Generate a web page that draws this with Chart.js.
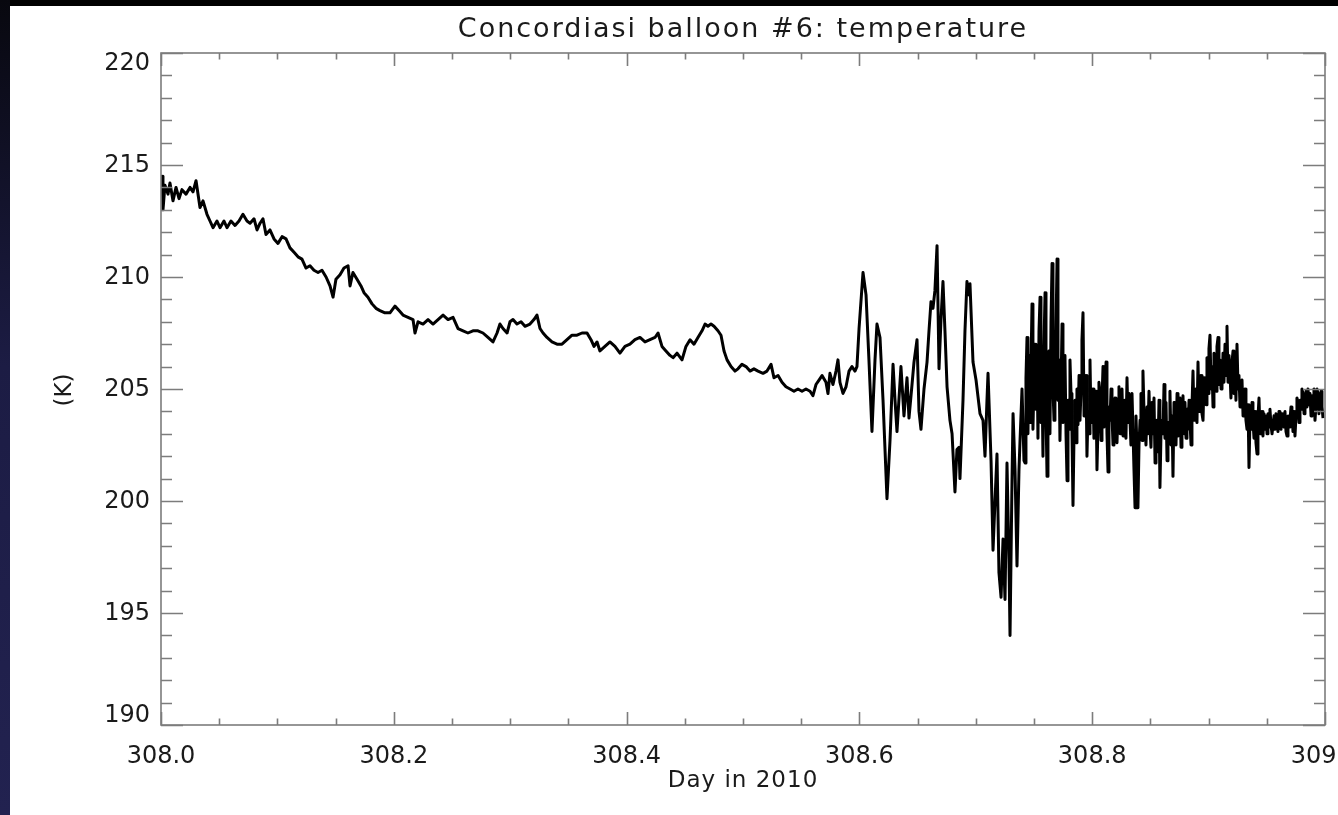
<!DOCTYPE html>
<html>
<head>
<meta charset="utf-8">
<title>Concordiasi balloon #6: temperature</title>
<script src="https://cdn.jsdelivr.net/npm/chart.js@4.4.1/dist/chart.umd.min.js"></script>
<style>
  html, body { margin: 0; padding: 0; width: 1338px; height: 815px; overflow: hidden; background: #000; }
  #edge { position: absolute; left: 0; top: 0; width: 10px; height: 815px; background: linear-gradient(#08080f, #1c1c44 45%, #222250); }
  #paper { position: absolute; left: 10px; top: 6px; width: 1328px; height: 809px; background: #fff; }
  canvas { display: block; }
</style>
</head>
<body>
<div id="edge"></div>
<div id="paper"><canvas id="chartTemp" width="1328" height="809"></canvas></div>
<script>
// ---- data ----
const days = [
  308.0000, 308.0009, 308.0017, 308.0034, 308.0060, 308.0077, 308.0103, 308.0129, 308.0155, 308.0180,
  308.0215, 308.0249, 308.0275, 308.0301, 308.0335, 308.0361, 308.0395, 308.0421, 308.0447, 308.0481,
  308.0507, 308.0541, 308.0567, 308.0601, 308.0636, 308.0670, 308.0704, 308.0739, 308.0765, 308.0799,
  308.0825, 308.0851, 308.0876, 308.0902, 308.0936, 308.0971, 308.1005, 308.1040, 308.1074, 308.1108,
  308.1143, 308.1177, 308.1211, 308.1246, 308.1280, 308.1314, 308.1349, 308.1383, 308.1418, 308.1452,
  308.1478, 308.1503, 308.1538, 308.1572, 308.1607, 308.1624, 308.1649, 308.1684, 308.1718, 308.1744,
  308.1778, 308.1813, 308.1847, 308.1881, 308.1924, 308.1967, 308.2010, 308.2045, 308.2079, 308.2122,
  308.2165, 308.2182, 308.2208, 308.2251, 308.2294, 308.2337, 308.2380, 308.2423, 308.2466, 308.2509,
  308.2552, 308.2595, 308.2637, 308.2680, 308.2723, 308.2766, 308.2809, 308.2852, 308.2887, 308.2912,
  308.2938, 308.2973, 308.2998, 308.3024, 308.3058, 308.3093, 308.3127, 308.3170, 308.3204, 308.3230,
  308.3256, 308.3282, 308.3316, 308.3359, 308.3402, 308.3445, 308.3488, 308.3531, 308.3574, 308.3617,
  308.3660, 308.3694, 308.3720, 308.3746, 308.3771, 308.3814, 308.3857, 308.3900, 308.3943, 308.3986,
  308.4029, 308.4072, 308.4115, 308.4158, 308.4201, 308.4244, 308.4270, 308.4304, 308.4338, 308.4373,
  308.4399, 308.4433, 308.4476, 308.4510, 308.4545, 308.4579, 308.4613, 308.4648, 308.4674, 308.4699,
  308.4725, 308.4751, 308.4785, 308.4811, 308.4837, 308.4863, 308.4897, 308.4931, 308.4957, 308.4991,
  308.5026, 308.5060, 308.5094, 308.5129, 308.5172, 308.5206, 308.5241, 308.5266, 308.5301, 308.5335,
  308.5369, 308.5404, 308.5438, 308.5472, 308.5507, 308.5541, 308.5576, 308.5601, 308.5627, 308.5653,
  308.5679, 308.5713, 308.5730, 308.5747, 308.5773, 308.5799, 308.5816, 308.5833, 308.5859, 308.5885,
  308.5911, 308.5936, 308.5962, 308.5979, 308.5997, 308.6031, 308.6057, 308.6082, 308.6108, 308.6134,
  308.6151, 308.6177, 308.6203, 308.6237, 308.6263, 308.6289, 308.6306, 308.6323, 308.6357, 308.6383,
  308.6409, 308.6426, 308.6452, 308.6469, 308.6495, 308.6512, 308.6529, 308.6555, 308.6581, 308.6598,
  308.6615, 308.6632, 308.6649, 308.6667, 308.6684, 308.6701, 308.6718, 308.6735, 308.6753, 308.6778,
  308.6796, 308.6821, 308.6838, 308.6856, 308.6864, 308.6890, 308.6907, 308.6924, 308.6942, 308.6950,
  308.6976, 308.7002, 308.7036, 308.7062, 308.7079, 308.7096, 308.7105, 308.7131, 308.7148, 308.7165,
  308.7182, 308.7199, 308.7217, 308.7234, 308.7251, 308.7268, 308.7285, 308.7294, 308.7311, 308.7320,
  308.7337, 308.7354, 308.7371, 308.7380, 308.7397, 308.7414,
  // dense, noisy stretch
  308.7423, 308.7431, 308.7440, 308.7448, 308.7457, 308.7466, 308.7474, 308.7483, 308.7491, 308.7500,
  308.7509, 308.7517, 308.7526, 308.7534, 308.7543, 308.7552, 308.7560, 308.7569, 308.7577, 308.7586,
  308.7595, 308.7603, 308.7612, 308.7620, 308.7629, 308.7637, 308.7646, 308.7655, 308.7663, 308.7672,
  308.7680, 308.7689, 308.7698, 308.7706, 308.7715, 308.7723, 308.7732, 308.7741, 308.7749, 308.7758,
  308.7766, 308.7775, 308.7784, 308.7792, 308.7801, 308.7809, 308.7818, 308.7826, 308.7835, 308.7844,
  308.7852, 308.7861, 308.7869, 308.7878, 308.7887, 308.7895, 308.7904, 308.7912, 308.7921, 308.7930,
  308.7938, 308.7947, 308.7955, 308.7964, 308.7973, 308.7981, 308.7990, 308.7998, 308.8007, 308.8015,
  308.8024, 308.8033, 308.8041, 308.8050, 308.8058, 308.8067, 308.8076, 308.8084, 308.8093, 308.8101,
  308.8110, 308.8119, 308.8127, 308.8136, 308.8144, 308.8153, 308.8162, 308.8170, 308.8179, 308.8187,
  308.8196, 308.8204, 308.8213, 308.8222, 308.8230, 308.8239, 308.8247, 308.8256, 308.8265, 308.8273,
  308.8282, 308.8290, 308.8299, 308.8308, 308.8316, 308.8325, 308.8333, 308.8342, 308.8351, 308.8359,
  308.8368, 308.8376, 308.8385, 308.8393, 308.8402, 308.8411, 308.8419, 308.8428, 308.8436, 308.8445,
  308.8454, 308.8462, 308.8471, 308.8479, 308.8488, 308.8497, 308.8505, 308.8514, 308.8522, 308.8531,
  308.8540, 308.8548, 308.8557, 308.8565, 308.8574, 308.8582, 308.8591, 308.8600, 308.8608, 308.8617,
  308.8625, 308.8634, 308.8643, 308.8651, 308.8660, 308.8668, 308.8677, 308.8686, 308.8694, 308.8703,
  308.8711, 308.8720, 308.8729, 308.8737, 308.8746, 308.8754, 308.8763, 308.8771, 308.8780, 308.8789,
  308.8797, 308.8806, 308.8814, 308.8823, 308.8832, 308.8840, 308.8849, 308.8857, 308.8866, 308.8875,
  308.8883, 308.8892, 308.8900, 308.8909, 308.8918, 308.8926, 308.8935, 308.8943, 308.8952, 308.8961,
  308.8969, 308.8978, 308.8986, 308.8995, 308.9003, 308.9012, 308.9021, 308.9029, 308.9038, 308.9046,
  308.9055, 308.9064, 308.9072, 308.9081, 308.9089, 308.9098, 308.9107, 308.9115, 308.9124, 308.9132,
  308.9141, 308.9150, 308.9158, 308.9167, 308.9175, 308.9184, 308.9192, 308.9201, 308.9210, 308.9218,
  308.9227, 308.9235, 308.9244, 308.9253, 308.9261, 308.9270, 308.9278, 308.9287, 308.9296, 308.9304,
  308.9313, 308.9321, 308.9330, 308.9339, 308.9347, 308.9356, 308.9364, 308.9373, 308.9381, 308.9390,
  308.9399, 308.9407, 308.9416, 308.9424, 308.9433, 308.9442, 308.9450, 308.9459,
  // tail
  308.9467, 308.9476, 308.9485, 308.9493, 308.9502, 308.9510, 308.9519, 308.9527, 308.9536, 308.9545,
  308.9553, 308.9562, 308.9570, 308.9579, 308.9588, 308.9596, 308.9605, 308.9613, 308.9622, 308.9631,
  308.9639, 308.9648, 308.9656, 308.9665, 308.9674, 308.9682, 308.9691, 308.9699, 308.9708, 308.9716,
  308.9725, 308.9734, 308.9742, 308.9751, 308.9759, 308.9768, 308.9777, 308.9785, 308.9794, 308.9802,
  308.9811, 308.9820, 308.9828, 308.9837, 308.9845, 308.9854, 308.9863, 308.9871, 308.9880, 308.9888,
  308.9897, 308.9905, 308.9914, 308.9923, 308.9931, 308.9940, 308.9948, 308.9957, 308.9966, 308.9974,
  308.9983
];

const tempK = [
  213.9, 214.5, 213.0, 214.1, 213.7, 214.2, 213.4, 214.0, 213.5, 213.9,
  213.7, 214.0, 213.8, 214.3, 213.1, 213.4, 212.8, 212.5, 212.2, 212.5,
  212.2, 212.5, 212.2, 212.5, 212.3, 212.5, 212.8, 212.5, 212.4, 212.6,
  212.1, 212.4, 212.6, 211.9, 212.1, 211.7, 211.5, 211.8, 211.7, 211.3,
  211.1, 210.9, 210.8, 210.4, 210.5, 210.3, 210.2, 210.3, 210.0, 209.6,
  209.1, 209.9, 210.1, 210.4, 210.5, 209.6, 210.2, 209.9, 209.6, 209.3,
  209.1, 208.8, 208.6, 208.5, 208.4, 208.4, 208.7, 208.5, 208.3, 208.2,
  208.1, 207.5, 208.0, 207.9, 208.1, 207.9, 208.1, 208.3, 208.1, 208.2,
  207.7, 207.6, 207.5, 207.6, 207.6, 207.5, 207.3, 207.1, 207.5, 207.9,
  207.7, 207.5, 208.0, 208.1, 207.9, 208.0, 207.8, 207.9, 208.1, 208.3,
  207.7, 207.5, 207.3, 207.1, 207.0, 207.0, 207.2, 207.4, 207.4, 207.5,
  207.5, 207.2, 206.9, 207.1, 206.7, 206.9, 207.1, 206.9, 206.6, 206.9,
  207.0, 207.2, 207.3, 207.1, 207.2, 207.3, 207.5, 206.9, 206.7, 206.5,
  206.4, 206.6, 206.3, 206.9, 207.2, 207.0, 207.3, 207.6, 207.9, 207.8,
  207.9, 207.8, 207.6, 207.4, 206.7, 206.3, 206.0, 205.8, 205.9, 206.1,
  206.0, 205.8, 205.9, 205.8, 205.7, 205.8, 206.1, 205.5, 205.6, 205.3,
  205.1, 205.0, 204.9, 205.0, 204.9, 205.0, 204.9, 204.7, 205.2, 205.4,
  205.6, 205.3, 204.8, 205.7, 205.2, 205.8, 206.3, 205.3, 204.8, 205.1,
  205.8, 206.0, 205.8, 206.0, 207.7, 210.2, 209.2, 206.3, 203.1, 206.3,
  207.9, 207.3, 204.5, 200.1, 202.7, 206.1, 204.5, 203.1, 206.0, 203.8,
  205.5, 203.7, 205.2, 206.2, 207.2, 204.0, 203.2, 205.0, 206.2, 207.6,
  208.9, 208.6, 209.4, 211.4, 205.9, 208.1, 209.8, 207.6, 205.1, 203.6,
  203.0, 200.4, 202.3, 202.4, 201.0, 204.5, 207.6, 209.8, 209.2, 209.7,
  206.2, 205.4, 203.9, 203.6, 202.0, 204.5, 205.7, 201.8, 197.8, 200.0,
  202.1, 196.8, 195.7, 198.3, 195.6, 201.7, 197.4, 194.0, 200.9, 203.9,
  201.4, 197.1, 201.4, 202.7, 205.0, 201.8,
  // dense, noisy stretch
  201.7, 205.5, 207.3, 203.0, 206.5, 203.5, 206.0, 208.8, 203.2, 205.4,
  207.0, 204.1, 206.8, 202.8, 207.6, 209.1, 203.5, 205.4, 202.0, 207.0,
  209.3, 204.0, 201.1, 205.5, 206.7, 203.0, 208.0, 210.6, 205.0, 203.6,
  207.0, 207.6, 210.8, 204.5, 206.3, 202.7, 205.0, 207.9, 203.5, 205.4,
  206.5, 203.0, 200.9, 204.5, 203.2, 206.3, 204.8, 203.2, 199.8, 203.0,
  204.5, 202.6, 205.0, 203.4, 205.6, 203.6, 205.0, 207.2, 208.4, 203.8,
  204.5, 205.6, 202.0, 204.0, 203.0, 206.3, 203.5, 204.6, 205.0, 202.8,
  203.2, 204.9, 201.4, 203.4, 205.3, 204.8, 202.7, 204.5, 206.0, 203.3,
  204.5, 206.2, 203.0, 201.3, 204.2, 203.6, 205.0, 203.8, 202.5, 203.2,
  204.6, 203.0, 202.6, 204.2, 205.1, 203.0, 204.1, 205.0, 202.9, 204.0,
  204.5, 202.8, 205.5, 203.5, 204.8, 203.6, 202.5, 204.8, 203.0, 201.4,
  199.7, 203.8, 202.3, 199.7, 202.5, 203.6, 204.8, 202.7, 205.8, 204.0,
  203.6, 202.5, 204.2, 203.0, 204.9, 203.2, 202.4, 204.4, 203.0, 204.6,
  201.7, 203.0, 203.6, 202.2, 204.5, 200.6, 203.0, 203.6, 203.0, 205.2,
  202.8, 204.4, 201.8, 203.5, 202.6, 204.9, 202.5, 203.8, 201.1, 204.4,
  203.6, 202.5, 204.8, 202.9, 203.6, 204.6, 202.4, 203.4, 204.7, 203.0,
  204.4, 202.8, 204.1, 203.2, 204.5, 203.6, 202.5, 204.2, 205.8, 203.6,
  204.4, 205.0, 203.5, 206.2, 204.0, 204.5, 205.6, 203.9, 203.6, 205.5,
  205.4, 204.3, 206.4, 204.8, 206.8, 207.4, 205.0, 206.0, 204.2, 206.6,
  205.8, 204.9, 206.9, 207.3, 205.2, 206.3, 205.0, 205.1, 206.6, 205.3,
  207.0, 205.6, 207.8, 205.3, 206.5, 205.7, 204.6, 206.2, 206.7, 204.8,
  205.9, 204.5, 207.0, 205.0, 205.6, 204.2, 205.2, 205.4, 203.8, 204.5,
  205.0, 203.6, 203.2, 204.3, 201.5, 203.8, 203.2, 204.4, 203.6, 202.8,
  204.0, 202.6, 202.1, 203.7, 204.6, 203.0, 203.2, 204.0,
  // tail
  202.9, 203.9, 203.2, 203.8, 203.0, 203.9, 203.3, 204.1, 203.4, 203.0,
  203.0, 203.8, 203.2, 203.9, 203.4, 203.1, 204.0, 203.7, 203.2, 203.9,
  203.4, 203.3, 204.0, 203.1, 202.9, 203.8, 203.3, 203.6, 204.2, 203.9,
  203.1, 204.0, 202.9, 203.8, 204.6, 204.4, 203.5, 204.5, 204.1, 205.0,
  204.8, 203.9, 204.5, 204.9, 204.2, 205.0, 204.3, 204.8, 203.8, 204.7,
  204.3, 205.0, 203.6, 204.3, 205.0, 204.8, 203.9, 204.5, 204.9, 204.2,
  203.7
];

// axes
const xTicks = [308.0, 308.2, 308.4, 308.6, 308.8, 309.0];
const xTickLabels = ['308.0', '308.2', '308.4', '308.6', '308.8', '309.0'];
const yTicks = [190, 195, 200, 205, 210, 215, 220];
const yTickLabels = ['190', '195', '200', '205', '210', '215', '220'];
const xMinorPerMajor = 4;
const yMinorPerMajor = 5;

const titleText = 'Concordiasi balloon #6: temperature';
const xTitle = 'Day in 2010';
const yTitle = '(K)';

const FONT = 'DejaVu Sans, Liberation Sans, sans-serif';
const INK = '#1a1a1a';
const AXIS = '#7c7c7c';

// IDL-style box: frame on all sides, ticks pointing inward, y labels kept inside the box, titles
const idlFrame = {
  id: 'idlFrame',
  afterDraw(chart) {
    const { ctx, chartArea: a, scales: { x, y } } = chart;
    const w = a.right - a.left, h = a.bottom - a.top;
    const xMaj = Math.round(h * 0.02), yMaj = Math.round(w * 0.019);
    ctx.save();
    ctx.strokeStyle = AXIS;
    ctx.lineWidth = 1.6;
    ctx.strokeRect(a.left, a.top, w, h);

    ctx.beginPath();
    for (let i = 0; i < xTicks.length; i++) {
      const steps = i < xTicks.length - 1 ? xMinorPerMajor : 1;
      for (let k = 0; k < steps; k++) {
        const v = i < xTicks.length - 1 ? xTicks[i] + (xTicks[i + 1] - xTicks[i]) * k / xMinorPerMajor : xTicks[i];
        const px = Math.round(x.getPixelForValue(v)) + 0.5;
        const len = k === 0 ? xMaj : xMaj / 2;
        ctx.moveTo(px, a.bottom); ctx.lineTo(px, a.bottom - len);
        ctx.moveTo(px, a.top); ctx.lineTo(px, a.top + len);
      }
    }
    for (let i = 0; i < yTicks.length; i++) {
      const steps = i < yTicks.length - 1 ? yMinorPerMajor : 1;
      for (let k = 0; k < steps; k++) {
        const v = i < yTicks.length - 1 ? yTicks[i] + (yTicks[i + 1] - yTicks[i]) * k / yMinorPerMajor : yTicks[i];
        const py = Math.round(y.getPixelForValue(v)) + 0.5;
        const len = k === 0 ? yMaj : yMaj / 2;
        ctx.moveTo(a.left, py); ctx.lineTo(a.left + len, py);
        ctx.moveTo(a.right, py); ctx.lineTo(a.right - len, py);
      }
    }
    ctx.stroke();

    ctx.fillStyle = INK;

    // y tick labels, end labels pulled inside the box like IDL does
    ctx.font = '24px ' + FONT;
    ctx.textAlign = 'right';
    ctx.textBaseline = 'middle';
    const half = 10;
    yTicks.forEach((v, i) => {
      const py = Math.min(Math.max(y.getPixelForValue(v), a.top + half), a.bottom - half);
      ctx.fillText(yTickLabels[i], a.left - 11, py + 1);
    });

    // titles
    const cx = (a.left + a.right) / 2;
    ctx.textAlign = 'center';
    ctx.font = '27px ' + FONT;
    ctx.letterSpacing = '2px';
    ctx.fillText(titleText, cx, 24);
    ctx.font = '23px ' + FONT;
    ctx.letterSpacing = '1px';
    ctx.fillText(xTitle, cx, 775);
    ctx.letterSpacing = '0px';
    ctx.translate(55, 384);
    ctx.rotate(-Math.PI / 2);
    ctx.fillText(yTitle, 0, 0);
    ctx.restore();
  }
};

new Chart(document.getElementById('chartTemp'), {
  type: 'line',
  data: {
    datasets: [{
      data: days.map((d, i) => ({ x: d, y: tempK[i] })),
      borderColor: '#000',
      borderWidth: 3,
      borderJoinStyle: 'round',
      pointRadius: 0,
      tension: 0,
      fill: false
    }]
  },
  options: {
    responsive: false,
    animation: false,
    layout: { padding: { top: 47, right: 13, left: 0, bottom: 0 } },
    plugins: { legend: { display: false }, tooltip: { enabled: false }, title: { display: false } },
    scales: {
      x: {
        type: 'linear', min: 308, max: 309,
        grid: { display: false, drawTicks: false }, border: { display: false },
        afterBuildTicks: s => { s.ticks = xTicks.map(v => ({ value: v })); },
        afterFit: s => { s.height = 90; s.paddingLeft = 0; s.paddingRight = 0; },
        ticks: {
          autoSkip: false, maxRotation: 0, padding: 17, color: INK,
          font: { family: FONT, size: 24 },
          callback: (v, i) => xTickLabels[i]
        }
      },
      y: {
        type: 'linear', min: 190, max: 220,
        grid: { display: false, drawTicks: false }, border: { display: false },
        afterBuildTicks: s => { s.ticks = yTicks.map(v => ({ value: v })); },
        afterFit: s => { s.width = 151; s.paddingTop = 0; s.paddingBottom = 0; },
        ticks: { display: false }
      }
    }
  },
  plugins: [idlFrame]
});
</script>
</body>
</html>
